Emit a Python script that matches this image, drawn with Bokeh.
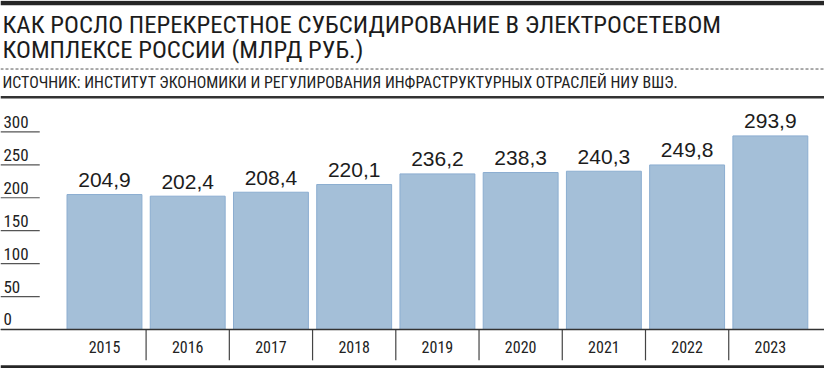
from bokeh.plotting import figure
from bokeh.models import Range1d, Span, ColumnDataSource
from bokeh.core.properties import value
from bokeh.embed import file_html
from bokeh.resources import INLINE

# ---- data ----
years = ["2015", "2016", "2017", "2018", "2019", "2020", "2021", "2022", "2023"]
values = [204.9, 202.4, 208.4, 220.1, 236.2, 238.3, 240.3, 249.8, 293.9]
y_ticks = [0, 50, 100, 150, 200, 250, 300]
title_lines = ["КАК РОСЛО ПЕРЕКРЕСТНОЕ СУБСИДИРОВАНИЕ В ЭЛЕКТРОСЕТЕВОМ",
               "КОМПЛЕКСЕ РОССИИ (МЛРД РУБ.)"]
source_text = "ИСТОЧНИК: ИНСТИТУТ ЭКОНОМИКИ И РЕГУЛИРОВАНИЯ ИНФРАСТРУКТУРНЫХ ОТРАСЛЕЙ НИУ ВШЭ."

value_labels = [f"{v:.1f}".replace(".", ",") for v in values]

# ---- layout (reference pixels scaled into the figure) ----
W, H = 824, 368
SX, SY = W / 840.0, H / 384.0
PX_X = 84.85 * SX          # pixels per category
X0_PX = 106.0 * SX         # pixel centre of first category
BASE_PX = 343.3 * SY       # pixel row of value 0 (from top)
PX_Y = 0.6873 * SY         # pixels per unit

x_start = -X0_PX / PX_X
x_end = (W - X0_PX) / PX_X
y_top = BASE_PX / PX_Y
y_bottom = -(H - BASE_PX) / PX_Y


def fx(ref_px):
    return x_start + ref_px * SX / PX_X


def fy(ref_py):
    return (BASE_PX - ref_py * SY) / PX_Y


COND = value("Roboto Condensed")
SANS = value("Liberation Sans")
TXT = "#1c1c1c"

p = figure(width=W, height=H, x_range=Range1d(x_start, x_end),
           y_range=Range1d(y_bottom, y_top),
           x_axis_location=None, y_axis_location=None,
           toolbar_location=None, output_backend="svg",
           min_border=0, outline_line_color=None)
p.grid.visible = False
p.background_fill_color = "white"
p.border_fill_color = "white"

# horizontal rules
p.add_layout(Span(location=fy(2.5), dimension="width", line_color="#262626", line_width=4.5))
p.add_layout(Span(location=fy(71.5), dimension="width", line_color="#555555", line_width=1,
                  line_dash="3 2"))
p.add_layout(Span(location=fy(101), dimension="width", line_color="#333333", line_width=2.5))
p.add_layout(Span(location=fy(382.5), dimension="width", line_color="#262626", line_width=3.5))

# title & source
p.text(x=[fx(2)] * 2, y=[fy(25.5), fy(51.5)], text=title_lines, text_font=COND,
       text_font_size="24.8px", text_color=TXT, text_baseline="middle", text_align="left")
p.text(x=[fx(2)], y=[fy(86)], text=[source_text], text_font=COND,
       text_font_size="15.9px", text_color="#222222", text_baseline="middle", text_align="left")

# y ticks: short underlines with labels sitting on them
p.segment(x0=[fx(0)] * len(y_ticks), x1=[fx(40)] * len(y_ticks), y0=y_ticks, y1=y_ticks,
          line_color="#555555", line_width=1.2)
p.text(x=[fx(3)] * len(y_ticks), y=[t + 10.5 / 0.6873 for t in y_ticks],
       text=[str(t) for t in y_ticks], text_font=COND, text_font_size="17px",
       text_color="#222222", text_baseline="middle", text_align="left")

# bars
idx = list(range(len(years)))
src = ColumnDataSource(dict(x=idx, top=values, lab=value_labels,
                            ly=[v + 15.2 / 0.6873 for v in values], year=years))
p.vbar(x="x", top="top", bottom=0, width=0.9, source=src,
       fill_color="#a4bfd8", line_color="#8badd0", line_width=1)
p.text(x="x", y="ly", text="lab", source=src, text_font=SANS, text_font_size="21px",
       text_color=TXT, text_baseline="middle", text_align="center")

# baseline and category separators
p.add_layout(Span(location=0, dimension="width", line_color="#333333", line_width=1.5))
seps = [i + 0.5 for i in idx[:-1]]
p.segment(x0=seps, x1=seps, y0=[0] * len(seps), y1=[fy(375.5)] * len(seps),
          line_color="#444444", line_width=1.2)
p.text(x="x", y=fy(361.7), text="year", source=src, text_font=COND, text_font_size="16px",
       text_color="#222222", text_baseline="middle", text_align="center")

open("out.html", "w").write(file_html(p, INLINE))
